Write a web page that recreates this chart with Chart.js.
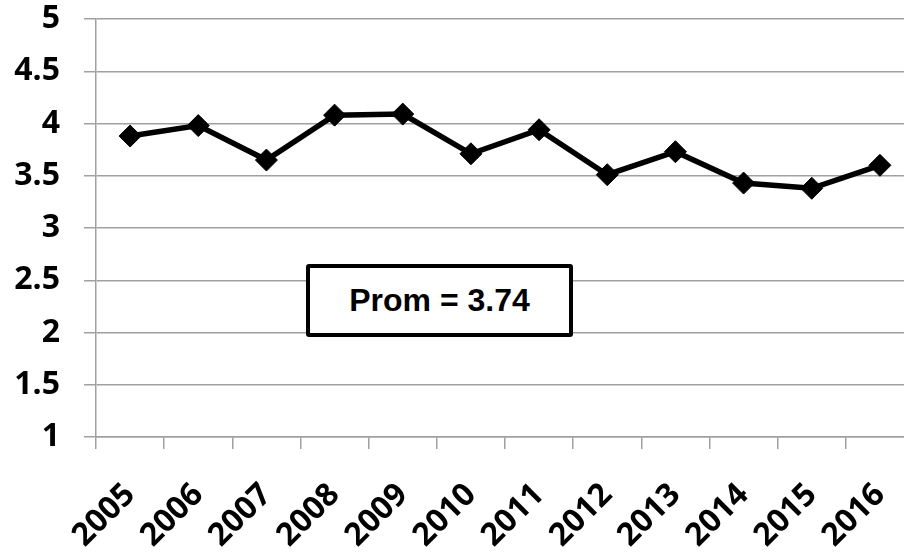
<!DOCTYPE html>
<html>
<head>
<meta charset="utf-8">
<title>Prom</title>
<script src="https://cdn.jsdelivr.net/npm/chart.js@4.4.0/dist/chart.umd.min.js"></script>
<style>
  html, body { margin: 0; padding: 0; background: #fff; overflow: hidden; }
  #wrap { position: relative; width: 926px; height: 553px; }
  #prom {
    position: absolute; left: 306px; top: 264px;
    width: 259px; height: 65px;
    border: 4px solid #000; border-radius: 3px;
    background: #fff;
    display: flex; align-items: center; justify-content: center;
    font: bold 32px "Liberation Sans", Arial, sans-serif; color: #000;
  }
</style>
</head>
<body>
<div id="wrap">
  <canvas id="chart" width="926" height="553"></canvas>
  <div id="prom"></div>
</div>
<script>
const years = ['2005', '2006', '2007', '2008', '2009', '2010', '2011', '2012', '2013', '2014', '2015', '2016'];
const promValues = [3.88, 3.98, 3.65, 4.08, 4.09, 3.71, 3.94, 3.51, 3.73, 3.43, 3.38, 3.60];
const yMin = 1;
const yMax = 5;
const yStep = 0.5;
const promLabel = 'Prom = 3.74';

document.getElementById('prom').textContent = promLabel;

const gridGray = '#a0a0a0';
const tickFont = { family: '"Open Sans", sans-serif', size: 32, weight: 'bold' };

const ctx = document.getElementById('chart').getContext('2d');
new Chart(ctx, {
    type: 'line',
    data: {
        labels: years,
        datasets: [{
            data: promValues,
            borderColor: '#000',
            borderWidth: 5.5,
            backgroundColor: '#000',
            pointStyle: 'rectRot',
            pointRadius: 11,
            pointBorderWidth: 1,
            pointBackgroundColor: '#000',
            pointBorderColor: '#000',
            tension: 0
        }]
    },
    options: {
        responsive: false,
        animation: false,
        devicePixelRatio: 1,
        layout: { padding: { left: 0, right: 2, top: 0, bottom: 0 } },
        plugins: { legend: { display: false }, tooltip: { enabled: false } },
        scales: {
            x: {
                offset: true,
                grid: { offset: true, drawOnChartArea: false, drawTicks: true, tickLength: 12, color: gridGray, lineWidth: 1.5 },
                border: { display: true, color: gridGray, width: 1.5 },
                ticks: { font: tickFont, color: '#000', minRotation: 45, maxRotation: 45, padding: 27 },
                // keep the plot running out past the right edge like the original
                afterFit: s => { s.height = 116; s.paddingLeft = 0; s.paddingRight = 0; }
            },
            y: {
                min: yMin,
                max: yMax,
                grid: { color: gridGray, lineWidth: 1.5, tickLength: 12 },
                border: { display: true, color: gridGray, width: 1.5 },
                ticks: { stepSize: yStep, font: tickFont, color: '#000', padding: 24, callback: v => String(v) },
                afterFit: s => { s.width = 96; s.paddingTop = 19; s.paddingBottom = 19; }
            }
        }
    }
});
</script>
</body>
</html>
